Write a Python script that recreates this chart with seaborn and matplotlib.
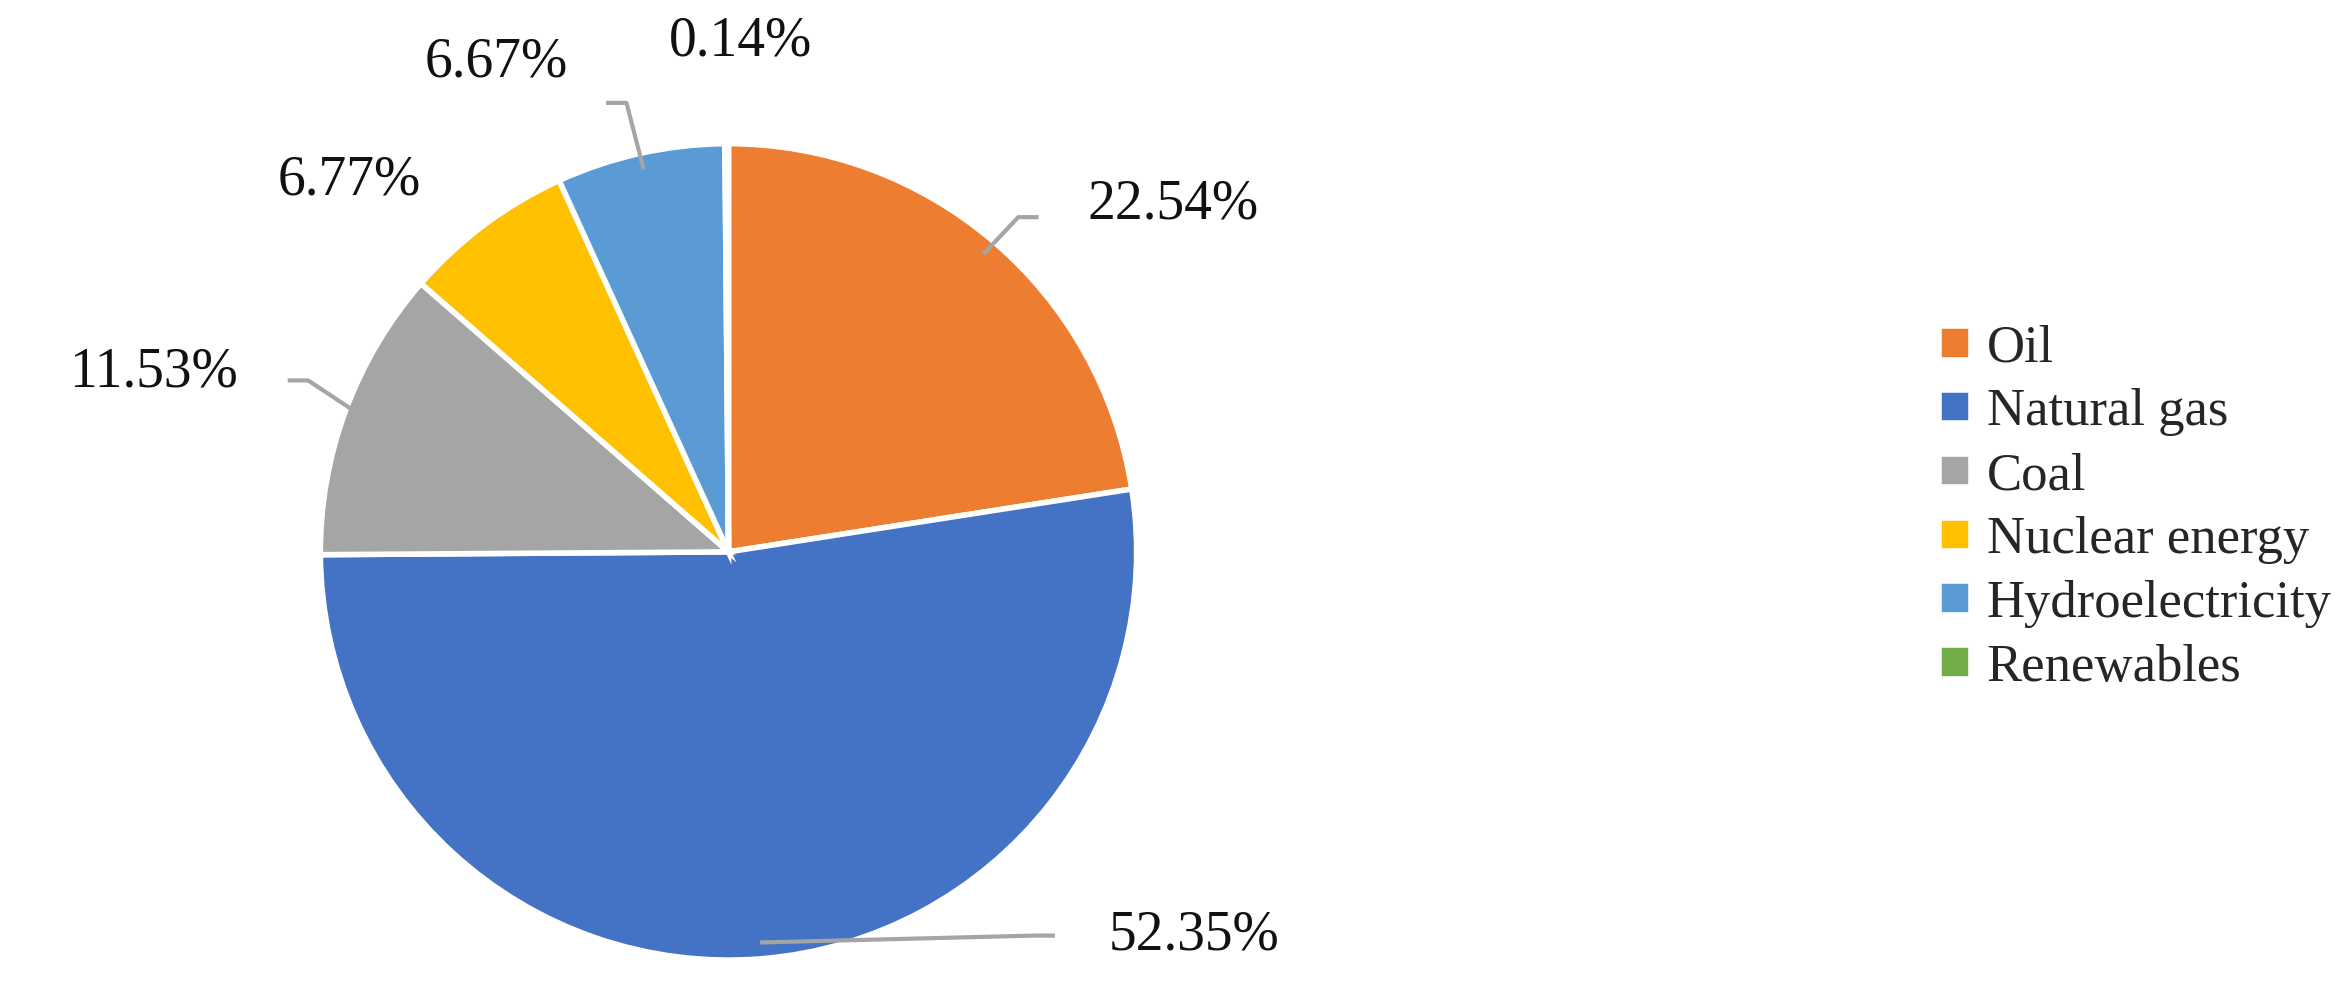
import seaborn as sns
import matplotlib.pyplot as plt
import numpy as np

sns.set_theme(style="white")
plt.rcParams['font.family'] = ['Liberation Serif', 'DejaVu Serif']

sources = ['Oil', 'Natural gas', 'Coal', 'Nuclear energy', 'Hydroelectricity', 'Renewables']
shares = [22.54, 52.35, 11.53, 6.77, 6.67, 0.14]
colors = ['#ED7D31', '#4472C4', '#A5A5A5', '#FFC000', '#5B9BD5', '#70AD47']
# label centres (pie radius = 1)
label_pos = [(1.09, 0.85), (1.14, -0.94), (-1.41, 0.44), (-0.93, 0.91), (-0.57, 1.2), (0.03, 1.25)]
# leader line ends
line_end = [(0.76, 0.82), (0.8, -0.94), (-1.08, 0.42), None, (-0.3, 1.1), None]

fig = plt.figure(figsize=(23.5, 9.96), dpi=100)
ax = fig.add_axes([0, 0, 0.62, 1])
wedges, _ = ax.pie(shares, colors=colors, startangle=90, counterclock=False,
                   wedgeprops=dict(edgecolor='white', linewidth=4))
ax.set_xlim(-1.785, 1.785)
ax.set_ylim(-1.088, 1.352)
ax.set_aspect('auto')
ax.axis('off')

for w, v, (lx, ly), le in zip(wedges, shares, label_pos, line_end):
    ang = np.deg2rad((w.theta1 + w.theta2) / 2)
    ex, ey = np.cos(ang) * 0.96, np.sin(ang) * 0.96
    if le is not None:
        ax.plot([ex, le[0] - np.sign(le[0] - ex) * 0.05, le[0]],
                [ey, le[1], le[1]], color='#A5A5A5', lw=3, solid_capstyle='butt')
    ax.text(lx, ly, f'{v:.2f}%', ha='center', va='center', fontsize=40, color='#111111')

fig.legend(wedges, sources, loc='center left', bbox_to_anchor=(0.805, 0.49),
           frameon=False, fontsize=38, handlelength=0.6, handleheight=0.6,
           handletextpad=0.3, labelspacing=0.3)
fig.savefig('out.png')
